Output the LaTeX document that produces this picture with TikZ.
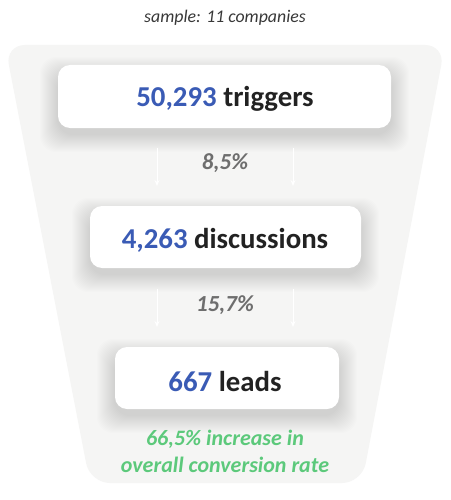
\documentclass[tikz,border=0pt]{standalone}
\usepackage{fontspec}
\setmainfont{Carlito}
\usetikzlibrary{arrows.meta}
\definecolor{funnel}{HTML}{F5F5F4}
\definecolor{numblue}{HTML}{3A5BB5}
\definecolor{txtdark}{HTML}{222222}
\definecolor{pctgray}{HTML}{6E6E6E}
\definecolor{green}{HTML}{5CC97B}
\tikzset{
  stagebox/.style={fill=white, rounded corners=12pt, inner sep=0pt},
  stagetext/.style={font=\fontsize{28.8}{31}\selectfont\bfseries, text=txtdark},
  pcttext/.style={font=\fontsize{23}{25}\selectfont\bfseries\itshape, text=pctgray},
  flowarrow/.style={draw=white, line width=1pt, -{Stealth[length=6pt,width=5pt]}},
  shadowlayer/.style={fill=black, fill opacity=0.008, rounded corners=16pt}
}
\newcommand{\boxshadow}[4]{%
  \foreach \i in {1,...,18}{
    \fill[shadowlayer] (#1-\i,#2-\i+10) rectangle (#3+\i,#4+\i+6);
  }%
}
\begin{document}
\begin{tikzpicture}[x=1pt,y=-1pt]
\useasboundingbox (0,0) rectangle (450,500);
\fill[white] (0,0) rectangle (450,500);
% funnel
\fill[funnel, rounded corners=20pt] (5,45) -- (445,45) -- (362,483) -- (90,483) -- cycle;
% title
\node[font=\fontsize{17.8}{20}\selectfont\itshape, text=txtdark!90] (title) at (225,18) {sample: 11 companies};
% shadows
\begin{scope}
\clip[rounded corners=20pt] (5,45) -- (445,45) -- (362,483) -- (90,483) -- cycle;
\boxshadow{58}{65}{391}{128}
\boxshadow{90}{206}{361}{268}
\boxshadow{115}{347}{339}{409}
\end{scope}
% boxes
\fill[stagebox] (58,65) rectangle (391,128);
\fill[stagebox] (90,206) rectangle (361,268);
\fill[stagebox] (115,347) rectangle (339,409);
\node[stagetext] (s1) at (225,99) {\textcolor{numblue}{50,293} triggers};
\node[stagetext] (s2) at (225,240) {\textcolor{numblue}{4,263} discussions};
\node[stagetext] (s3) at (225,381) {\textcolor{numblue}{667} leads};
% percentages
\node[pcttext] (p1) at (225,163) {8,5\%};
\node[pcttext] (p2) at (225,305) {15,7\%};
% arrows
\coordinate (a1s) at (157,148); \coordinate (a1e) at (157,186);
\coordinate (a2s) at (293,148); \coordinate (a2e) at (293,186);
\coordinate (a3s) at (157,289); \coordinate (a3e) at (157,327);
\coordinate (a4s) at (293,289); \coordinate (a4e) at (293,327);
\draw[flowarrow] (a1s) -- (a1e);
\draw[flowarrow] (a2s) -- (a2e);
\draw[flowarrow] (a3s) -- (a3e);
\draw[flowarrow] (a4s) -- (a4e);
% result
\node[font=\fontsize{22}{27}\selectfont\bfseries\itshape, text=green, align=center] (res) at (225,451) {66,5\% increase in\\overall conversion rate};
\end{tikzpicture}
\end{document}
